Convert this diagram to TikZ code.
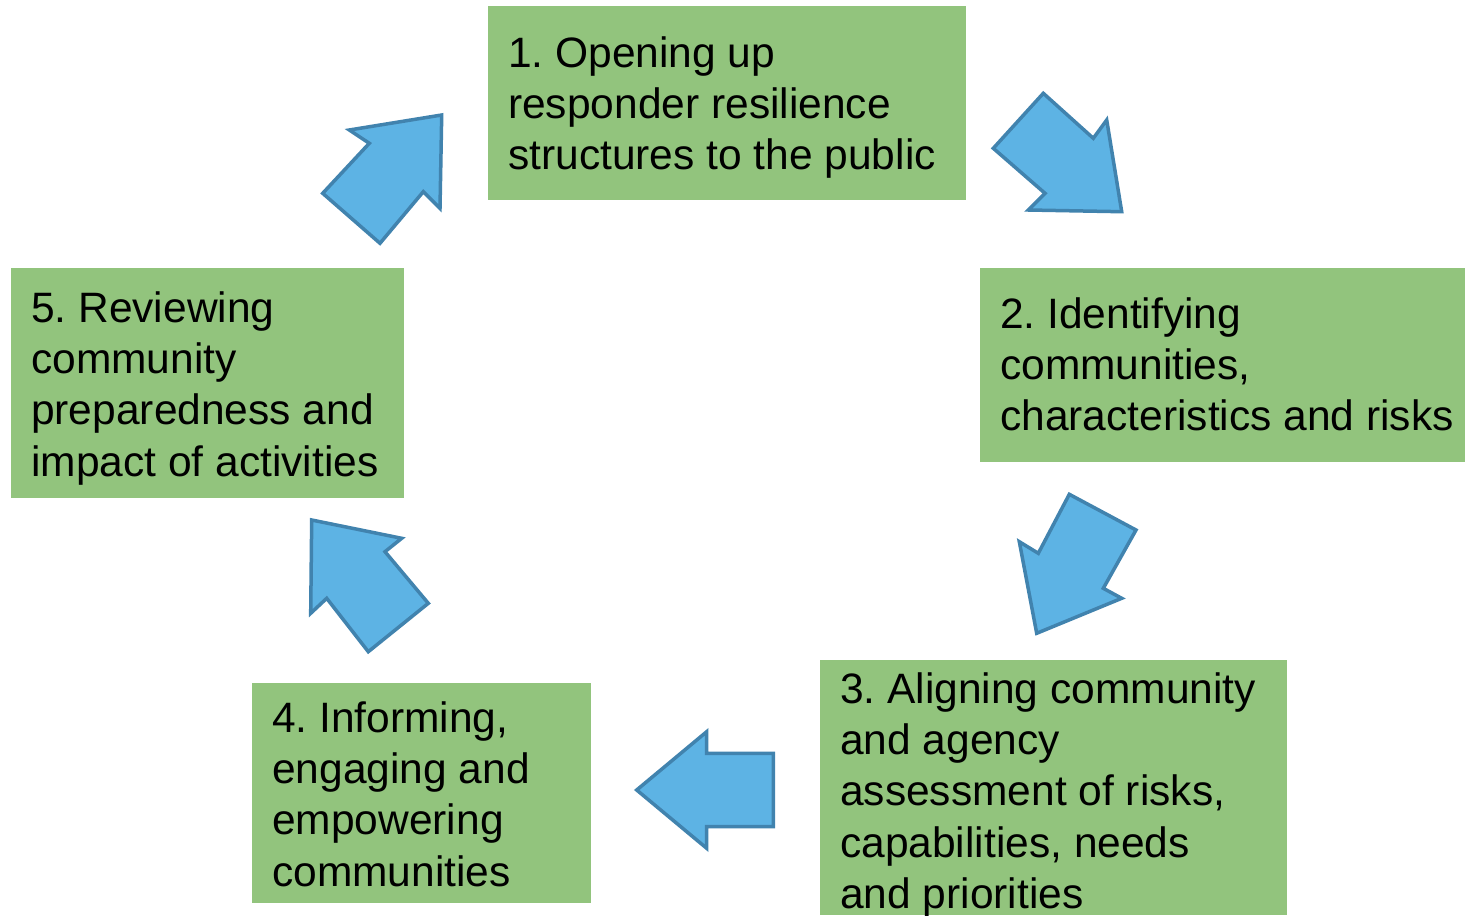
\documentclass[tikz,border=0pt]{standalone}
\usepackage{fontspec}
\setmainfont{Liberation Sans}
\frenchspacing
\definecolor{stepgreen}{RGB}{146,196,125}
\definecolor{arrowfill}{RGB}{93,179,228}
\definecolor{arrowline}{RGB}{65,131,174}
\begin{document}
\begin{tikzpicture}[x=1pt,y=-1pt,
  stagebox/.style={rectangle, fill=stepgreen, draw=none, inner sep=0pt},
  stagetext/.style={anchor=north west, inner sep=0pt, align=left,
    font={\fontsize{42.5}{51.3}\selectfont\frenchspacing}},
  blockarrow/.style={fill=arrowfill, draw=arrowline, line width=3.5pt, line join=miter}]
\useasboundingbox (0,0) rectangle (1466,915);

% stage boxes
\node[stagebox, minimum width=478pt, minimum height=194pt] (b1) at (727,103) {};
\node[stagebox, minimum width=485pt, minimum height=194pt] (b2) at (1222.5,365) {};
\node[stagebox, minimum width=467pt, minimum height=255pt] (b3) at (1053.5,787.5) {};
\node[stagebox, minimum width=339pt, minimum height=220pt] (b4) at (421.5,793) {};
\node[stagebox, minimum width=393pt, minimum height=230pt] (b5) at (207.5,383) {};

% stage texts (first baseline sits 35pt below the node's top)
\node[stagetext] (t1) at (508,32) {\rule{0pt}{35pt}1. Opening up\\responder resilience\\structures to the public};
\node[stagetext] (t2) at (1000,293) {\rule{0pt}{35pt}2. Identifying\\communities,\\characteristics and risks};
\node[stagetext] (t3) at (840,668) {\rule{0pt}{35pt}3. Aligning community\\and agency\\assessment of risks,\\capabilities, needs\\and priorities};
\node[stagetext] (t4) at (272,697) {\rule{0pt}{35pt}4. Informing,\\engaging and\\empowering\\communities};
\node[stagetext] (t5) at (31,287) {\rule{0pt}{35pt}5. Reviewing\\community\\preparedness and\\impact of activities};

% block arrows around the cycle
\draw[blockarrow] (441.7,115) -- (349.3,130) -- (369.3,143.3) -- (322.7,193.3)
  -- (380,243.3) -- (423.3,191.7) -- (440,208.3) -- cycle;
\draw[blockarrow] (1121.7,211.7) -- (1028.3,210) -- (1045,193.3) -- (993.3,148.3)
  -- (1043.3,93.3) -- (1093.3,138.3) -- (1106.7,120) -- cycle;
\draw[blockarrow] (1036.7,633.3) -- (1019.3,541.7) -- (1038.3,553.3) -- (1069.3,494.3)
  -- (1136,530) -- (1103.3,588.3) -- (1121.7,598.3) -- cycle;
\draw[blockarrow] (636.7,790) -- (706.7,731.7) -- (706.7,753.3) -- (773.3,753.3)
  -- (773.3,826.7) -- (706.7,826.7) -- (706.7,848.3) -- cycle;
\draw[blockarrow] (311.7,520) -- (401.7,538.3) -- (385,551.7) -- (428.3,603.3)
  -- (368.3,651.7) -- (326.7,598.3) -- (310.7,613.3) -- cycle;
\end{tikzpicture}
\end{document}
